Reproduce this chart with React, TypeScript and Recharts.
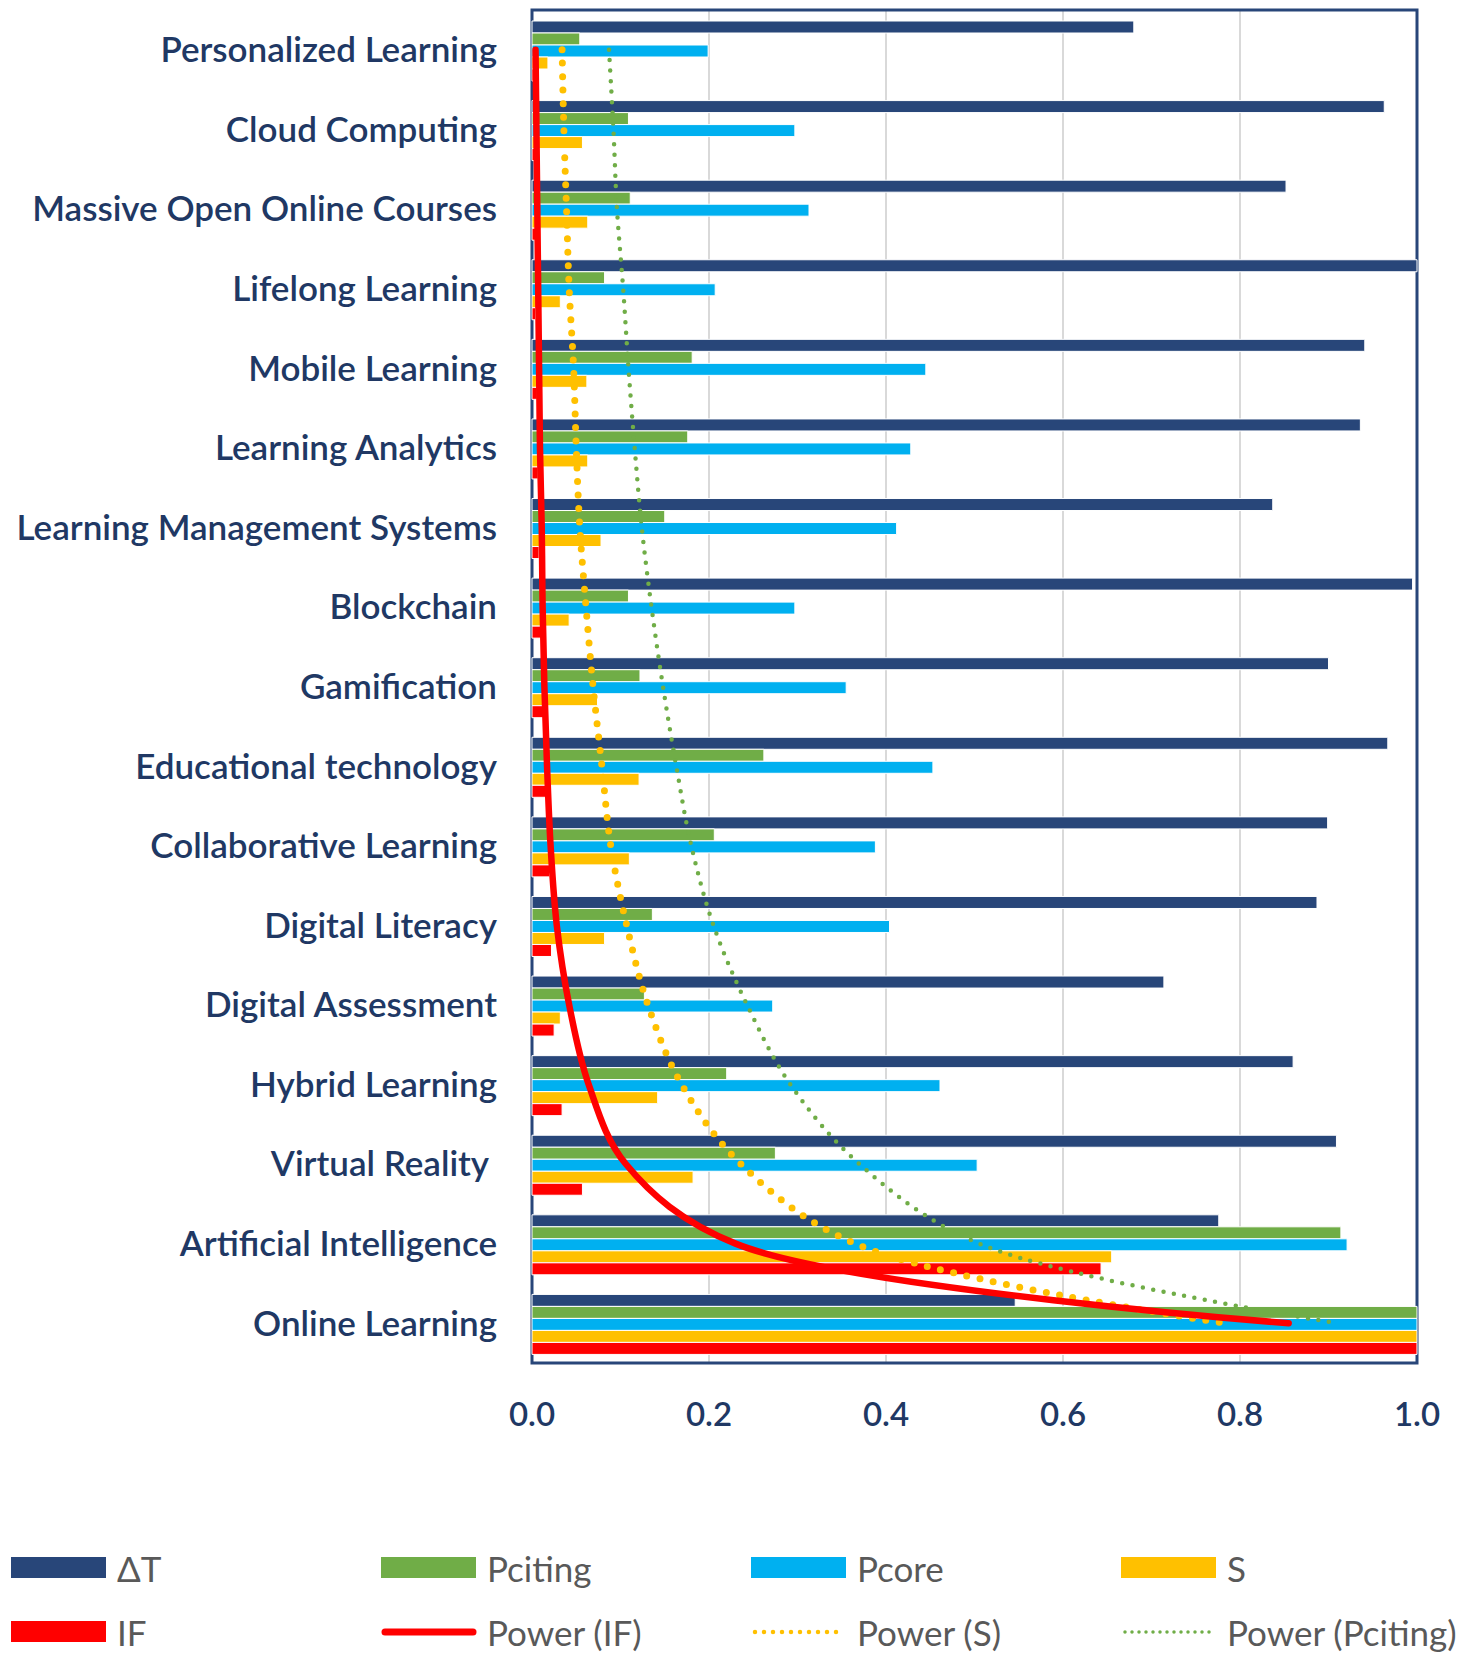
import React from 'react';
import {
  ComposedChart,
  Bar,
  Line,
  XAxis,
  YAxis,
  CartesianGrid,
  ReferenceArea,
} from 'recharts';

const categories = [
  'Personalized Learning',
  'Cloud Computing',
  'Massive Open Online Courses',
  'Lifelong Learning',
  'Mobile Learning',
  'Learning Analytics',
  'Learning Management Systems',
  'Blockchain',
  'Gamification',
  'Educational technology',
  'Collaborative Learning',
  'Digital Literacy',
  'Digital Assessment',
  'Hybrid Learning',
  'Virtual Reality\u00A0',
  'Artificial Intelligence',
  'Online Learning',
];

const deltaT = [0.68, 0.963, 0.852, 1.0, 0.941, 0.936, 0.837, 0.995, 0.9, 0.967, 0.899, 0.887, 0.714, 0.86, 0.909, 0.776, 0.546];
const pciting = [0.054, 0.109, 0.111, 0.082, 0.181, 0.176, 0.15, 0.109, 0.122, 0.262, 0.206, 0.136, 0.127, 0.22, 0.275, 0.914, 1.0];
const pcore = [0.199, 0.297, 0.313, 0.207, 0.445, 0.428, 0.412, 0.297, 0.355, 0.453, 0.388, 0.404, 0.272, 0.461, 0.503, 0.921, 1.0];
const sValues = [0.018, 0.057, 0.063, 0.032, 0.062, 0.063, 0.078, 0.042, 0.074, 0.121, 0.11, 0.082, 0.032, 0.142, 0.182, 0.655, 1.0];
const ifValues = [0.003, 0.004, 0.005, 0.004, 0.006, 0.007, 0.008, 0.011, 0.014, 0.017, 0.02, 0.022, 0.025, 0.034, 0.057, 0.643, 1.0];

// trendlines at each category centre
const powerIF = [0.004, 0.005, 0.006, 0.007, 0.008, 0.009, 0.011, 0.012, 0.014, 0.017, 0.021, 0.028, 0.042, 0.064, 0.106, 0.23, 0.855];
const powerS = [0.034, 0.036, 0.039, 0.042, 0.047, 0.05, 0.054, 0.061, 0.069, 0.079, 0.089, 0.107, 0.131, 0.169, 0.236, 0.365, 0.783];
const powerPciting = [0.087, 0.092, 0.096, 0.103, 0.109, 0.116, 0.124, 0.135, 0.148, 0.163, 0.18, 0.205, 0.243, 0.292, 0.37, 0.505, 0.91];

const xTicks = [0, 0.2, 0.4, 0.6, 0.8, 1.0];

const data = categories.map((name, i) => ({
  name,
  dT: deltaT[i],
  pciting: pciting[i],
  pcore: pcore[i],
  s: sValues[i],
  impact: ifValues[i],
  powerIF: powerIF[i],
  powerS: powerS[i],
  powerPciting: powerPciting[i],
}));

const NAVY = '#284679';
const GREEN = '#70AD47';
const CYAN = '#00B0F0';
const YELLOW = '#FFC000';
const RED = '#FF0000';
const LABEL = '#203864';
const FONT = 'Lato, "Open Sans", sans-serif';

// centripetal catmull-rom (same maths as d3's curveCatmullRom, alpha 0.5),
// monotone gives a visible kink where the trend bends hard
const catmullRom = (context: any) => {
  let pts: number[][] = [];
  const dist = (a: number[], b: number[]) => Math.hypot(b[0] - a[0], b[1] - a[1]);
  return {
    areaStart() {},
    areaEnd() {},
    lineStart() {
      pts = [];
    },
    point(x: number, y: number) {
      pts.push([+x, +y]);
    },
    lineEnd() {
      if (!pts.length) return;
      context.moveTo(pts[0][0], pts[0][1]);
      for (let i = 0; i < pts.length - 1; i++) {
        const p0 = pts[i - 1] || pts[i];
        const p1 = pts[i];
        const p2 = pts[i + 1];
        const p3 = pts[i + 2] || p2;
        const l01 = Math.sqrt(dist(p0, p1));
        const l12 = Math.sqrt(dist(p1, p2));
        const l23 = Math.sqrt(dist(p2, p3));
        let c1 = p1;
        let c2 = p2;
        if (l01 > 1e-6) {
          const a = 2 * l01 * l01 + 3 * l01 * l12 + l12 * l12;
          const n = 3 * l01 * (l01 + l12);
          c1 = [0, 1].map((k) => (p1[k] * a - p0[k] * l12 * l12 + p2[k] * l01 * l01) / n);
        }
        if (l23 > 1e-6) {
          const b = 2 * l23 * l23 + 3 * l23 * l12 + l12 * l12;
          const m = 3 * l23 * (l23 + l12);
          c2 = [0, 1].map((k) => (p2[k] * b + p1[k] * l23 * l23 - p3[k] * l12 * l12) / m);
        }
        context.bezierCurveTo(c1[0], c1[1], c2[0], c2[1], p2[0], p2[1]);
      }
    },
  };
};

type LegendItem = { label: string; color: string; kind: 'box' | 'line' | 'dots' | 'smalldots' };

const legendRows: LegendItem[][] = [
  [
    { label: 'ΔT', color: NAVY, kind: 'box' },
    { label: 'Pciting', color: GREEN, kind: 'box' },
    { label: 'Pcore', color: CYAN, kind: 'box' },
    { label: 'S', color: YELLOW, kind: 'box' },
  ],
  [
    { label: 'IF', color: RED, kind: 'box' },
    { label: 'Power (IF)', color: RED, kind: 'line' },
    { label: 'Power (S)', color: YELLOW, kind: 'dots' },
    { label: 'Power (Pciting)', color: GREEN, kind: 'smalldots' },
  ],
];

const legendCols = [11, 381, 751, 1121];
const legendRowY = [1568, 1632];

const Swatch = ({ item }: { item: LegendItem }) => (
  <svg width={96} height={24} style={{ display: 'block' }}>
    {item.kind === 'box' && <rect x={0} y={1} width={95} height={21} fill={item.color} />}
    {item.kind === 'line' && (
      <line x1={4} y1={12} x2={92} y2={12} stroke={item.color} strokeWidth={7} strokeLinecap="round" />
    )}
    {item.kind === 'dots' && (
      <line x1={4} y1={12} x2={94} y2={12} stroke={item.color} strokeWidth={4.5} strokeDasharray="0 9" strokeLinecap="round" />
    )}
    {item.kind === 'smalldots' && (
      <line x1={4} y1={12} x2={94} y2={12} stroke={item.color} strokeWidth={3.5} strokeDasharray="0 7" strokeLinecap="round" />
    )}
  </svg>
);

export default function App() {
  return (
    <div style={{ position: 'absolute', left: 0, top: 0, width: 1477, height: 1659, background: '#fff', fontFamily: FONT }}>
      <ComposedChart
        width={1477}
        height={1450}
        data={data}
        layout="vertical"
        margin={{ top: 10, right: 60, bottom: 0, left: 0 }}
        barCategoryGap={11}
        barGap={0}
      >
        <CartesianGrid horizontal={false} stroke="#D9D9D9" strokeWidth={2} />
        <XAxis
          type="number"
          domain={[0, 1]}
          ticks={xTicks}
          tickFormatter={(v: number) => v.toFixed(1)}
          axisLine={false}
          tickLine={false}
          tickSize={0}
          tickMargin={40}
          height={87}
          tick={{ fontSize: 33, fill: LABEL, fontFamily: FONT, fontWeight: 600 }}
        />
        <YAxis
          type="category"
          dataKey="name"
          width={532}
          axisLine={false}
          tickLine={false}
          tickSize={0}
          tickMargin={35}
          interval={0}
          tick={{ fontSize: 35, fill: LABEL, fontFamily: FONT, fontWeight: 600 }}
        />
        <Bar dataKey="dT" name="ΔT" fill={NAVY} stroke="#fff" strokeWidth={1} isAnimationActive={false} />
        <Bar dataKey="pciting" name="Pciting" fill={GREEN} stroke="#fff" strokeWidth={1} isAnimationActive={false} />
        <Bar dataKey="pcore" name="Pcore" fill={CYAN} stroke="#fff" strokeWidth={1} isAnimationActive={false} />
        <Bar dataKey="s" name="S" fill={YELLOW} stroke="#fff" strokeWidth={1} isAnimationActive={false} />
        <Bar dataKey="impact" name="IF" fill={RED} stroke="#fff" strokeWidth={1} isAnimationActive={false} />
        <Line
          dataKey="powerPciting"
          type={catmullRom as any}
          stroke={GREEN}
          strokeWidth={4.5}
          strokeDasharray="0 10.5"
          strokeLinecap="round"
          dot={false}
          activeDot={false}
          isAnimationActive={false}
        />
        <Line
          dataKey="powerS"
          type={catmullRom as any}
          stroke={YELLOW}
          strokeWidth={7}
          strokeDasharray="0 13.5"
          strokeLinecap="round"
          dot={false}
          activeDot={false}
          isAnimationActive={false}
        />
        <Line
          dataKey="powerIF"
          type={catmullRom as any}
          stroke={RED}
          strokeWidth={6.5}
          strokeLinecap="round"
          dot={false}
          activeDot={false}
          isAnimationActive={false}
        />
        <ReferenceArea x1={0} x2={1} fill="none" stroke={NAVY} strokeWidth={3} ifOverflow="visible" />
      </ComposedChart>
      {legendRows.map((row, r) =>
        row.map((item, c) => (
          <div
            key={item.label}
            style={{
              position: 'absolute',
              left: legendCols[c],
              top: legendRowY[r] - 20,
              height: 40,
              display: 'flex',
              alignItems: 'center',
              gap: 10,
              fontSize: 35,
              color: '#595959',
              whiteSpace: 'nowrap',
            }}
          >
            <Swatch item={item} />
            <span>{item.label}</span>
          </div>
        ))
      )}
    </div>
  );
}
